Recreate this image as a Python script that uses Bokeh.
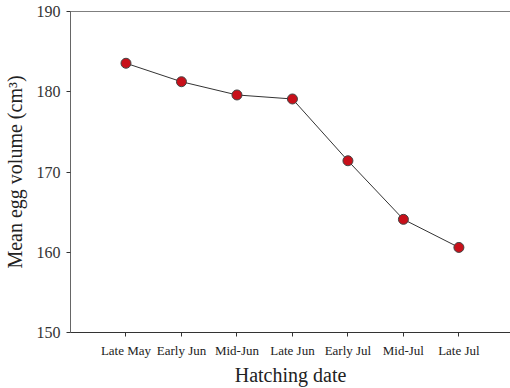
from bokeh.plotting import figure
from bokeh.models import FixedTicker, Range1d, Span
from bokeh.embed import file_html
from bokeh.resources import INLINE

categories = ["Late May", "Early Jun", "Mid-Jun", "Late Jun", "Early Jul", "Mid-Jul", "Late Jul"]
volumes = [183.55, 181.25, 179.6, 179.1, 171.4, 164.1, 160.6]
positions = list(range(1, len(categories) + 1))
y_ticks = [150, 160, 170, 180, 190]

FONT = "Liberation Serif"

p = figure(width=510, height=388, output_backend="svg", toolbar_location=None,
           x_range=Range1d(0, 7.93), y_range=Range1d(150, 190),
           min_border_left=70, min_border_right=0, min_border_top=11, min_border_bottom=0)
p.outline_line_color = None
p.grid.visible = False
p.background_fill_color = "white"
p.border_fill_color = "white"

p.line(positions, volumes, line_color="#333333", line_width=1)
p.scatter(positions, volumes, size=10, fill_color="#c8101a", line_color="#444444", line_width=1)

p.add_layout(Span(location=190, dimension="width", line_color="black", line_width=1))

xa = p.xaxis[0]
xa.ticker = FixedTicker(ticks=positions)
xa.major_label_overrides = {pos: lab for pos, lab in zip(positions, categories)}
xa.axis_label = "Hatching date"
xa.axis_label_text_font = FONT
xa.axis_label_text_font_style = "normal"
xa.axis_label_text_font_size = "20px"
xa.axis_label_text_color = "#222222"
xa.axis_label_standoff = 3
xa.major_label_text_font = FONT
xa.major_label_text_font_size = "13px"
xa.major_label_text_color = "#222222"
xa.major_label_standoff = 6
xa.axis_line_color = "#333333"
xa.major_tick_line_color = "#333333"
xa.major_tick_out = 4
xa.major_tick_in = 0
xa.minor_tick_line_color = None

ya = p.yaxis[0]
ya.ticker = FixedTicker(ticks=y_ticks)
ya.axis_label = "Mean egg volume (cm³)"
ya.axis_label_text_font = FONT
ya.axis_label_text_font_style = "normal"
ya.axis_label_text_font_size = "20px"
ya.axis_label_text_color = "#222222"
ya.axis_label_standoff = 8
ya.major_label_text_font = FONT
ya.major_label_text_font_size = "16px"
ya.major_label_text_color = "#333333"
ya.major_label_standoff = 6
ya.axis_line_color = "#666666"
ya.major_tick_line_color = "#333333"
ya.major_tick_out = 4
ya.major_tick_in = 0
ya.minor_tick_line_color = None

open("out.html", "w").write(file_html(p, INLINE))
